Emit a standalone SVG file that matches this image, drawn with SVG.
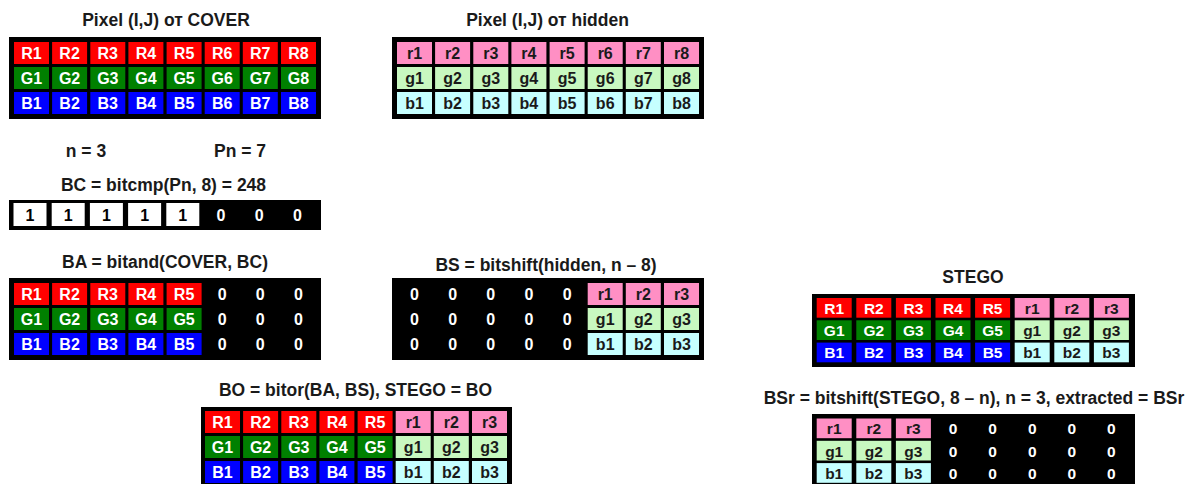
<svg xmlns="http://www.w3.org/2000/svg" width="1193" height="484" viewBox="0 0 1193 484">
<style>
text{font-family:"Liberation Sans",Arial,sans-serif;font-weight:bold;text-anchor:middle}
.t{font-size:17.5px;fill:#1a1a1a}
.bx{fill:#000}
.R{fill:#ff0000}.G{fill:#008000}.B{fill:#0000ff}
.r{fill:#ff8fc4}.g{fill:#c8f8c0}.b{fill:#c6ffff}.w{fill:#fff}
.lu{font-size:16px;fill:#fff}
.ll{font-size:16px;fill:#1a1a1a}
.z{font-size:16px;fill:#fff}
.one{font-size:16px;fill:#000}
.sm text{font-size:15.5px}
</style>
<rect width="1193" height="484" fill="#fff"/>

<g id="cover">
<text class="t" x="166" y="26">Pixel (I,J) от COVER</text>
<rect class="bx" x="9" y="37" width="312" height="82"/>
<g class="R"><rect x="14" y="42" width="35" height="22"/><rect x="52.1" y="42" width="35" height="22"/><rect x="90.3" y="42" width="35" height="22"/><rect x="128.4" y="42" width="35" height="22"/><rect x="166.6" y="42" width="35" height="22"/><rect x="204.7" y="42" width="35" height="22"/><rect x="242.8" y="42" width="35" height="22"/><rect x="281" y="42" width="35" height="22"/></g>
<g class="G"><rect x="14" y="67" width="35" height="22"/><rect x="52.1" y="67" width="35" height="22"/><rect x="90.3" y="67" width="35" height="22"/><rect x="128.4" y="67" width="35" height="22"/><rect x="166.6" y="67" width="35" height="22"/><rect x="204.7" y="67" width="35" height="22"/><rect x="242.8" y="67" width="35" height="22"/><rect x="281" y="67" width="35" height="22"/></g>
<g class="B"><rect x="14" y="92" width="35" height="22"/><rect x="52.1" y="92" width="35" height="22"/><rect x="90.3" y="92" width="35" height="22"/><rect x="128.4" y="92" width="35" height="22"/><rect x="166.6" y="92" width="35" height="22"/><rect x="204.7" y="92" width="35" height="22"/><rect x="242.8" y="92" width="35" height="22"/><rect x="281" y="92" width="35" height="22"/></g>
<g class="lu">
<text x="31.5" y="59">R1</text><text x="69.6" y="59">R2</text><text x="107.8" y="59">R3</text><text x="145.9" y="59">R4</text><text x="184.1" y="59">R5</text><text x="222.2" y="59">R6</text><text x="260.3" y="59">R7</text><text x="298.5" y="59">R8</text>
<text x="31.5" y="84">G1</text><text x="69.6" y="84">G2</text><text x="107.8" y="84">G3</text><text x="145.9" y="84">G4</text><text x="184.1" y="84">G5</text><text x="222.2" y="84">G6</text><text x="260.3" y="84">G7</text><text x="298.5" y="84">G8</text>
<text x="31.5" y="109">B1</text><text x="69.6" y="109">B2</text><text x="107.8" y="109">B3</text><text x="145.9" y="109">B4</text><text x="184.1" y="109">B5</text><text x="222.2" y="109">B6</text><text x="260.3" y="109">B7</text><text x="298.5" y="109">B8</text>
</g>
</g>

<g id="hidden">
<text class="t" x="547.5" y="26">Pixel (I,J) от hidden</text>
<rect class="bx" x="392" y="37" width="312" height="82"/>
<g class="r"><rect x="397" y="42" width="35" height="22"/><rect x="435.1" y="42" width="35" height="22"/><rect x="473.3" y="42" width="35" height="22"/><rect x="511.4" y="42" width="35" height="22"/><rect x="549.6" y="42" width="35" height="22"/><rect x="587.7" y="42" width="35" height="22"/><rect x="625.8" y="42" width="35" height="22"/><rect x="664" y="42" width="35" height="22"/></g>
<g class="g"><rect x="397" y="67" width="35" height="22"/><rect x="435.1" y="67" width="35" height="22"/><rect x="473.3" y="67" width="35" height="22"/><rect x="511.4" y="67" width="35" height="22"/><rect x="549.6" y="67" width="35" height="22"/><rect x="587.7" y="67" width="35" height="22"/><rect x="625.8" y="67" width="35" height="22"/><rect x="664" y="67" width="35" height="22"/></g>
<g class="b"><rect x="397" y="92" width="35" height="22"/><rect x="435.1" y="92" width="35" height="22"/><rect x="473.3" y="92" width="35" height="22"/><rect x="511.4" y="92" width="35" height="22"/><rect x="549.6" y="92" width="35" height="22"/><rect x="587.7" y="92" width="35" height="22"/><rect x="625.8" y="92" width="35" height="22"/><rect x="664" y="92" width="35" height="22"/></g>
<g class="ll">
<text x="414.5" y="59">r1</text><text x="452.6" y="59">r2</text><text x="490.8" y="59">r3</text><text x="528.9" y="59">r4</text><text x="567.1" y="59">r5</text><text x="605.2" y="59">r6</text><text x="643.3" y="59">r7</text><text x="681.5" y="59">r8</text>
<text x="414.5" y="84">g1</text><text x="452.6" y="84">g2</text><text x="490.8" y="84">g3</text><text x="528.9" y="84">g4</text><text x="567.1" y="84">g5</text><text x="605.2" y="84">g6</text><text x="643.3" y="84">g7</text><text x="681.5" y="84">g8</text>
<text x="414.5" y="109">b1</text><text x="452.6" y="109">b2</text><text x="490.8" y="109">b3</text><text x="528.9" y="109">b4</text><text x="567.1" y="109">b5</text><text x="605.2" y="109">b6</text><text x="643.3" y="109">b7</text><text x="681.5" y="109">b8</text>
</g>
</g>

<g id="params">
<text class="t" x="86" y="157">n = 3</text>
<text class="t" x="240" y="157">Pn = 7</text>
</g>

<g id="bc">
<text class="t" x="163.5" y="191">BC = bitcmp(Pn, 8) = 248</text>
<rect class="bx" x="9" y="200" width="312" height="30"/>
<g class="w"><rect x="13.5" y="203" width="33" height="23"/><rect x="51.7" y="203" width="33" height="23"/><rect x="89.9" y="203" width="33" height="23"/><rect x="128.1" y="203" width="33" height="23"/><rect x="166.3" y="203" width="33" height="23"/></g>
<g class="one"><text x="30" y="220.5">1</text><text x="68.2" y="220.5">1</text><text x="106.4" y="220.5">1</text><text x="144.6" y="220.5">1</text><text x="182.8" y="220.5">1</text></g>
<g class="z"><text x="221" y="220.5">0</text><text x="259.2" y="220.5">0</text><text x="297.4" y="220.5">0</text></g>
</g>

<g id="ba">
<text class="t" x="165" y="268">BA = bitand(COVER, BC)</text>
<rect class="bx" x="9" y="278" width="312" height="82"/>
<g class="R"><rect x="14" y="283" width="35" height="22"/><rect x="52.1" y="283" width="35" height="22"/><rect x="90.3" y="283" width="35" height="22"/><rect x="128.4" y="283" width="35" height="22"/><rect x="166.6" y="283" width="35" height="22"/></g>
<g class="G"><rect x="14" y="308" width="35" height="22"/><rect x="52.1" y="308" width="35" height="22"/><rect x="90.3" y="308" width="35" height="22"/><rect x="128.4" y="308" width="35" height="22"/><rect x="166.6" y="308" width="35" height="22"/></g>
<g class="B"><rect x="14" y="333" width="35" height="22"/><rect x="52.1" y="333" width="35" height="22"/><rect x="90.3" y="333" width="35" height="22"/><rect x="128.4" y="333" width="35" height="22"/><rect x="166.6" y="333" width="35" height="22"/></g>
<g class="lu">
<text x="31.5" y="300">R1</text><text x="69.6" y="300">R2</text><text x="107.8" y="300">R3</text><text x="145.9" y="300">R4</text><text x="184.1" y="300">R5</text>
<text x="31.5" y="325">G1</text><text x="69.6" y="325">G2</text><text x="107.8" y="325">G3</text><text x="145.9" y="325">G4</text><text x="184.1" y="325">G5</text>
<text x="31.5" y="350">B1</text><text x="69.6" y="350">B2</text><text x="107.8" y="350">B3</text><text x="145.9" y="350">B4</text><text x="184.1" y="350">B5</text>
</g>
<g class="z">
<text x="222.2" y="300">0</text><text x="260.3" y="300">0</text><text x="298.5" y="300">0</text>
<text x="222.2" y="325">0</text><text x="260.3" y="325">0</text><text x="298.5" y="325">0</text>
<text x="222.2" y="350">0</text><text x="260.3" y="350">0</text><text x="298.5" y="350">0</text>
</g>
</g>

<g id="bs">
<text class="t" x="546" y="271">BS = bitshift(hidden, n – 8)</text>
<rect class="bx" x="392" y="278" width="312" height="82"/>
<g class="z">
<text x="414.5" y="300">0</text><text x="452.6" y="300">0</text><text x="490.8" y="300">0</text><text x="528.9" y="300">0</text><text x="567.1" y="300">0</text>
<text x="414.5" y="325">0</text><text x="452.6" y="325">0</text><text x="490.8" y="325">0</text><text x="528.9" y="325">0</text><text x="567.1" y="325">0</text>
<text x="414.5" y="350">0</text><text x="452.6" y="350">0</text><text x="490.8" y="350">0</text><text x="528.9" y="350">0</text><text x="567.1" y="350">0</text>
</g>
<g class="r"><rect x="587.7" y="283" width="35" height="22"/><rect x="625.8" y="283" width="35" height="22"/><rect x="664" y="283" width="35" height="22"/></g>
<g class="g"><rect x="587.7" y="308" width="35" height="22"/><rect x="625.8" y="308" width="35" height="22"/><rect x="664" y="308" width="35" height="22"/></g>
<g class="b"><rect x="587.7" y="333" width="35" height="22"/><rect x="625.8" y="333" width="35" height="22"/><rect x="664" y="333" width="35" height="22"/></g>
<g class="ll">
<text x="605.2" y="300">r1</text><text x="643.3" y="300">r2</text><text x="681.5" y="300">r3</text>
<text x="605.2" y="325">g1</text><text x="643.3" y="325">g2</text><text x="681.5" y="325">g3</text>
<text x="605.2" y="350">b1</text><text x="643.3" y="350">b2</text><text x="681.5" y="350">b3</text>
</g>
</g>

<g id="bo">
<text class="t" x="355.5" y="396">BO = bitor(BA, BS), STEGO = BO</text>
<rect class="bx" x="201" y="407" width="311" height="82"/>
<g class="R"><rect x="205" y="411" width="35" height="22"/><rect x="243.1" y="411" width="35" height="22"/><rect x="281.3" y="411" width="35" height="22"/><rect x="319.4" y="411" width="35" height="22"/><rect x="357.6" y="411" width="35" height="22"/></g>
<g class="G"><rect x="205" y="436" width="35" height="22"/><rect x="243.1" y="436" width="35" height="22"/><rect x="281.3" y="436" width="35" height="22"/><rect x="319.4" y="436" width="35" height="22"/><rect x="357.6" y="436" width="35" height="22"/></g>
<g class="B"><rect x="205" y="461" width="35" height="22"/><rect x="243.1" y="461" width="35" height="22"/><rect x="281.3" y="461" width="35" height="22"/><rect x="319.4" y="461" width="35" height="22"/><rect x="357.6" y="461" width="35" height="22"/></g>
<g class="r"><rect x="395.7" y="411" width="35" height="22"/><rect x="433.8" y="411" width="35" height="22"/><rect x="472" y="411" width="35" height="22"/></g>
<g class="g"><rect x="395.7" y="436" width="35" height="22"/><rect x="433.8" y="436" width="35" height="22"/><rect x="472" y="436" width="35" height="22"/></g>
<g class="b"><rect x="395.7" y="461" width="35" height="22"/><rect x="433.8" y="461" width="35" height="22"/><rect x="472" y="461" width="35" height="22"/></g>
<g class="lu">
<text x="222.5" y="428">R1</text><text x="260.6" y="428">R2</text><text x="298.8" y="428">R3</text><text x="336.9" y="428">R4</text><text x="375.1" y="428">R5</text>
<text x="222.5" y="453">G1</text><text x="260.6" y="453">G2</text><text x="298.8" y="453">G3</text><text x="336.9" y="453">G4</text><text x="375.1" y="453">G5</text>
<text x="222.5" y="478">B1</text><text x="260.6" y="478">B2</text><text x="298.8" y="478">B3</text><text x="336.9" y="478">B4</text><text x="375.1" y="478">B5</text>
</g>
<g class="ll">
<text x="413.2" y="428">r1</text><text x="451.3" y="428">r2</text><text x="489.5" y="428">r3</text>
<text x="413.2" y="453">g1</text><text x="451.3" y="453">g2</text><text x="489.5" y="453">g3</text>
<text x="413.2" y="478">b1</text><text x="451.3" y="478">b2</text><text x="489.5" y="478">b3</text>
</g>
</g>

<g id="stego">
<text class="t" x="973" y="283">STEGO</text>
<rect class="bx" x="812" y="294" width="323" height="73"/>
<g class="R"><rect x="816.7" y="298" width="35" height="19.7"/><rect x="856.3" y="298" width="35" height="19.7"/><rect x="895.9" y="298" width="35" height="19.7"/><rect x="935.5" y="298" width="35" height="19.7"/><rect x="975.1" y="298" width="35" height="19.7"/></g>
<g class="G"><rect x="816.7" y="320.3" width="35" height="19.7"/><rect x="856.3" y="320.3" width="35" height="19.7"/><rect x="895.9" y="320.3" width="35" height="19.7"/><rect x="935.5" y="320.3" width="35" height="19.7"/><rect x="975.1" y="320.3" width="35" height="19.7"/></g>
<g class="B"><rect x="816.7" y="342.6" width="35" height="19.7"/><rect x="856.3" y="342.6" width="35" height="19.7"/><rect x="895.9" y="342.6" width="35" height="19.7"/><rect x="935.5" y="342.6" width="35" height="19.7"/><rect x="975.1" y="342.6" width="35" height="19.7"/></g>
<g class="r"><rect x="1014.7" y="298" width="35" height="19.7"/><rect x="1054.3" y="298" width="35" height="19.7"/><rect x="1093.9" y="298" width="35" height="19.7"/></g>
<g class="g"><rect x="1014.7" y="320.3" width="35" height="19.7"/><rect x="1054.3" y="320.3" width="35" height="19.7"/><rect x="1093.9" y="320.3" width="35" height="19.7"/></g>
<g class="b"><rect x="1014.7" y="342.6" width="35" height="19.7"/><rect x="1054.3" y="342.6" width="35" height="19.7"/><rect x="1093.9" y="342.6" width="35" height="19.7"/></g>
<g class="lu sm">
<text x="834.2" y="313.8">R1</text><text x="873.8" y="313.8">R2</text><text x="913.4" y="313.8">R3</text><text x="953" y="313.8">R4</text><text x="992.6" y="313.8">R5</text>
<text x="834.2" y="336">G1</text><text x="873.8" y="336">G2</text><text x="913.4" y="336">G3</text><text x="953" y="336">G4</text><text x="992.6" y="336">G5</text>
<text x="834.2" y="358.4">B1</text><text x="873.8" y="358.4">B2</text><text x="913.4" y="358.4">B3</text><text x="953" y="358.4">B4</text><text x="992.6" y="358.4">B5</text>
</g>
<g class="ll sm">
<text x="1032.2" y="313.8">r1</text><text x="1071.8" y="313.8">r2</text><text x="1111.4" y="313.8">r3</text>
<text x="1032.2" y="336">g1</text><text x="1071.8" y="336">g2</text><text x="1111.4" y="336">g3</text>
<text x="1032.2" y="358.4">b1</text><text x="1071.8" y="358.4">b2</text><text x="1111.4" y="358.4">b3</text>
</g>
</g>

<g id="bsr">
<text class="t" x="974" y="404">BSr = bitshift(STEGO, 8 – n), n = 3, extracted = BSr</text>
<rect class="bx" x="812" y="414" width="323" height="73"/>
<g class="r"><rect x="816.7" y="418.5" width="35" height="19.7"/><rect x="856.3" y="418.5" width="35" height="19.7"/><rect x="895.9" y="418.5" width="35" height="19.7"/></g>
<g class="g"><rect x="816.7" y="440.8" width="35" height="19.7"/><rect x="856.3" y="440.8" width="35" height="19.7"/><rect x="895.9" y="440.8" width="35" height="19.7"/></g>
<g class="b"><rect x="816.7" y="463.1" width="35" height="19.7"/><rect x="856.3" y="463.1" width="35" height="19.7"/><rect x="895.9" y="463.1" width="35" height="19.7"/></g>
<g class="ll sm">
<text x="834.2" y="434.2">r1</text><text x="873.8" y="434.2">r2</text><text x="913.4" y="434.2">r3</text>
<text x="834.2" y="456.5">g1</text><text x="873.8" y="456.5">g2</text><text x="913.4" y="456.5">g3</text>
<text x="834.2" y="478.8">b1</text><text x="873.8" y="478.8">b2</text><text x="913.4" y="478.8">b3</text>
</g>
<g class="z sm">
<text x="953" y="434.2">0</text><text x="992.6" y="434.2">0</text><text x="1032.2" y="434.2">0</text><text x="1071.8" y="434.2">0</text><text x="1111.4" y="434.2">0</text>
<text x="953" y="456.5">0</text><text x="992.6" y="456.5">0</text><text x="1032.2" y="456.5">0</text><text x="1071.8" y="456.5">0</text><text x="1111.4" y="456.5">0</text>
<text x="953" y="478.8">0</text><text x="992.6" y="478.8">0</text><text x="1032.2" y="478.8">0</text><text x="1071.8" y="478.8">0</text><text x="1111.4" y="478.8">0</text>
</g>
</g>

<g id="connectors"></g>
</svg>
